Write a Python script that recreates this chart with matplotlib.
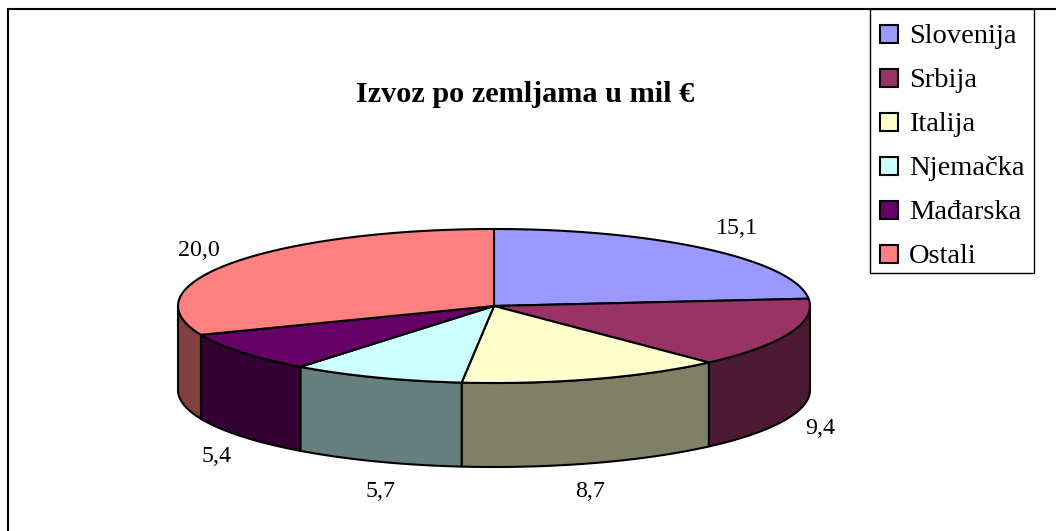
import numpy as np
import matplotlib
matplotlib.use("Agg")
import matplotlib.pyplot as plt
from matplotlib.patches import Polygon, Rectangle

plt.rcParams['font.family'] = ['Liberation Serif', 'DejaVu Serif']

categories = ['Slovenija', 'Srbija', 'Italija', 'Njemačka', 'Mađarska', 'Ostali']
values = [15.1, 9.4, 8.7, 5.7, 5.4, 20.0]
value_labels = ['15,1', '9,4', '8,7', '5,7', '5,4', '20,0']
title = 'Izvoz po zemljama u mil €'

top_colors = ['#9999FF', '#993366', '#FFFFCC', '#CCFFFF', '#660066', '#FF8080']
side_colors = ['#4D4D80', '#4D1A33', '#808066', '#668080', '#330033', '#804040']

W, H = 1056, 531
cx, cy, rx, ry, depth = 494, 306, 316, 77, 84
label_xy = [(737, 228.5), (820, 428), (590, 491.5), (381, 491.5), (217, 456), (199, 251)]
LW = 1.5

fig = plt.figure(figsize=(W / 100, H / 100), dpi=100, facecolor='white')
ax = fig.add_axes([0, 0, 1, 1])
ax.set_xlim(0, W)
ax.set_ylim(H, 0)
ax.axis('off')

# chart frame: only top and left edges are visible in the crop
ax.plot([7.5, 7.5, W], [H, 9, 9], color='black', lw=LW, solid_joinstyle='miter', zorder=1)


def rim(a0, a1, dy=0.0):
    t = np.radians(np.linspace(a0, a1, max(2, int(abs(a1 - a0)) * 2 + 2)))
    return np.column_stack([cx + rx * np.sin(t), cy + dy - ry * np.cos(t)])


edges = np.concatenate([[0], np.cumsum(values)]) / np.sum(values) * 360

# side walls (only the front half of the rim, 90..270 degrees clockwise from top)
for i, col in enumerate(side_colors):
    a0, a1 = max(edges[i], 90), min(edges[i + 1], 270)
    if a1 <= a0:
        continue
    pts = np.vstack([rim(a0, a1), rim(a0, a1, depth)[::-1]])
    ax.add_patch(Polygon(pts, closed=True, fc=col, ec='black', lw=LW, joinstyle='round', zorder=2))

# top faces
for i, col in enumerate(top_colors):
    pts = np.vstack([[cx, cy], rim(edges[i], edges[i + 1])])
    ax.add_patch(Polygon(pts, closed=True, fc=col, ec='black', lw=LW, joinstyle='round', zorder=3))

# value labels
for (x, y), s in zip(label_xy, value_labels):
    ax.text(x, y, s, ha='center', va='center', fontsize=17.3, color='black', zorder=5)

ax.text(525, 94, title, ha='center', va='center', fontsize=21.8, fontweight='bold', color='black', zorder=5)

# legend
ax.add_patch(Rectangle((869.5, 9), 164.5, 263.5, fc='white', ec='black', lw=1.0, zorder=4))
for i, (name, col) in enumerate(zip(categories, top_colors)):
    y = 34 + i * 44
    ax.add_patch(Rectangle((879.5, y - 9), 18, 18, fc=col, ec='black', lw=LW, zorder=5))
    ax.text(909, y + 2.5, name, ha='left', va='center', fontsize=20.5, color='black', zorder=5)

fig.savefig('out.png', dpi=100, facecolor='white')
